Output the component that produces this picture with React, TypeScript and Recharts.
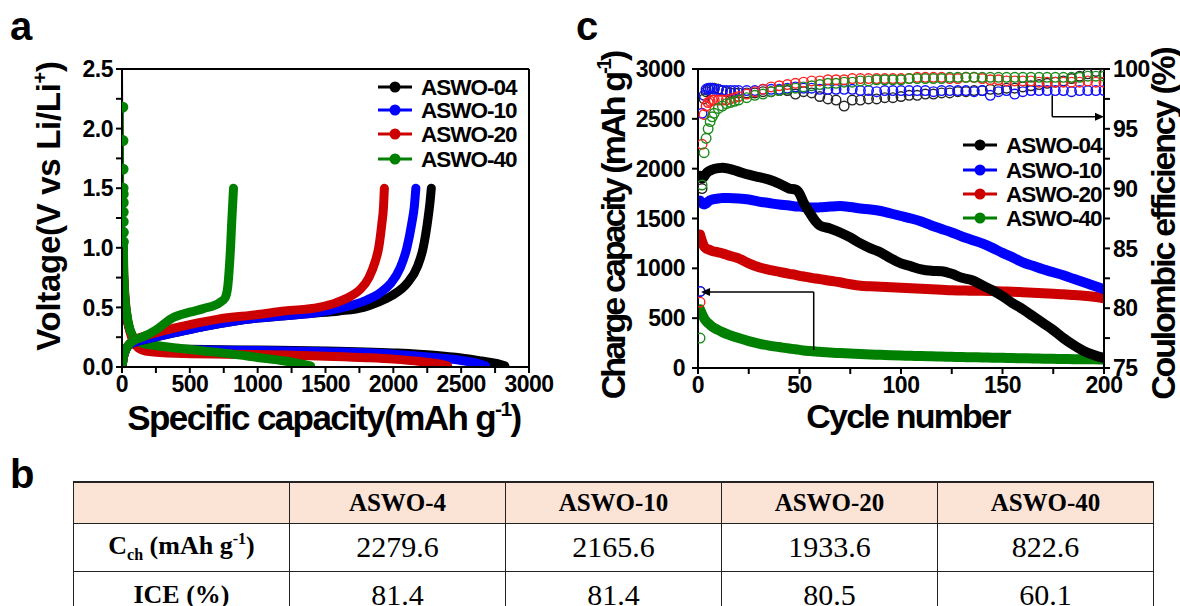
import React from 'react';
import {
  LineChart, ComposedChart, Line, XAxis, YAxis, ReferenceLine, ReferenceDot,
} from 'recharts';

// ---- panel a: voltage profiles, [capacity mAh/g, voltage V] ----
const head04: [number, number][] = [[0, 2.5], [1, 1.8], [3, 1.2], [5, 1.0]];
const head10: [number, number][] = [[0, 2.5], [1, 1.8], [3, 1.2], [5, 1.0]];
const head20: [number, number][] = [[0, 2.5], [1, 2.0], [3, 1.58], [4, 1.45], [6, 1.15], [7, 1.0]];
const head40: [number, number][] = [[6, 2.18], [7, 1.9], [8, 1.66], [8, 1.5], [9, 1.45], [9, 1.38], [9, 1.3], [9, 1.22], [10, 1.13], [10, 1.05]];

const dis04: [number, number][] = [[5, 1.0], [12, 0.75], [22, 0.55], [35, 0.42], [55, 0.32], [80, 0.25], [110, 0.205], [150, 0.175], [250, 0.155], [500, 0.148], [1000, 0.142], [1500, 0.135], [2000, 0.118], [2300, 0.098], [2500, 0.075], [2650, 0.05], [2760, 0.03], [2822, 0.01]];
const dis10: [number, number][] = [[5, 1.0], [12, 0.75], [22, 0.55], [35, 0.42], [55, 0.32], [80, 0.25], [110, 0.2], [150, 0.17], [250, 0.15], [500, 0.145], [1000, 0.138], [1500, 0.128], [2000, 0.108], [2300, 0.08], [2500, 0.055], [2620, 0.03], [2680, 0.01]];
const dis20: [number, number][] = [[7, 1.0], [14, 0.75], [25, 0.55], [40, 0.4], [60, 0.29], [85, 0.21], [120, 0.16], [200, 0.13], [400, 0.115], [800, 0.107], [1200, 0.1], [1500, 0.09], [1800, 0.078], [2000, 0.066], [2200, 0.046], [2330, 0.027], [2400, 0.01]];
const dis40: [number, number][] = [[10, 1.05], [13, 0.8], [20, 0.6], [35, 0.45], [55, 0.33], [80, 0.26], [110, 0.22], [150, 0.2], [250, 0.18], [400, 0.16], [600, 0.135], [800, 0.11], [1000, 0.08], [1200, 0.05], [1390, 0.01]];

const chg04: [number, number][] = [[0, 0], [10, 0.08], [30, 0.15], [60, 0.19], [100, 0.21], [200, 0.24], [400, 0.29], [600, 0.34], [800, 0.38], [1000, 0.41], [1200, 0.43], [1400, 0.45], [1600, 0.47], [1780, 0.5], [1880, 0.54], [1990, 0.6], [2100, 0.7], [2180, 0.85], [2220, 1.0], [2256, 1.25], [2272, 1.4], [2280, 1.5]];
const chg10: [number, number][] = [[0, 0], [10, 0.08], [30, 0.15], [60, 0.19], [100, 0.21], [200, 0.24], [400, 0.29], [600, 0.34], [800, 0.38], [1000, 0.41], [1200, 0.43], [1400, 0.45], [1550, 0.48], [1700, 0.52], [1800, 0.56], [1900, 0.62], [1980, 0.7], [2050, 0.83], [2100, 1.0], [2135, 1.2], [2155, 1.35], [2166, 1.5]];
const chg20: [number, number][] = [[0, 0], [10, 0.08], [30, 0.15], [60, 0.2], [100, 0.23], [200, 0.27], [400, 0.33], [700, 0.4], [1000, 0.44], [1200, 0.47], [1450, 0.5], [1580, 0.54], [1680, 0.59], [1755, 0.65], [1820, 0.75], [1865, 0.88], [1892, 1.0], [1915, 1.2], [1928, 1.35], [1934, 1.5]];
const chg40: [number, number][] = [[0, 0], [10, 0.08], [30, 0.15], [60, 0.2], [100, 0.23], [150, 0.25], [250, 0.31], [370, 0.41], [500, 0.46], [600, 0.49], [720, 0.54], [760, 0.58], [780, 0.68], [792, 0.85], [800, 1.0], [808, 1.2], [815, 1.35], [822, 1.5]];

const capTicksA = [0, 250, 500, 750, 1000, 1250, 1500, 1750, 2000, 2250, 2500, 2750, 3000];
const voltTicks = [0, 0.25, 0.5, 0.75, 1.0, 1.25, 1.5, 1.75, 2.0, 2.25, 2.5];

// ---- panel c: cycling ----
const capCycles = [1, 2, 3, 4, 5, 7, 10, 12, 15, 20, 25, 30, 35, 40, 45, 48, 50, 52, 55, 58, 60, 65, 70, 75, 80, 85, 90, 95, 100, 105, 110, 115, 120, 125, 130, 135, 140, 145, 150, 155, 160, 165, 170, 175, 180, 185, 190, 195, 200];
const cap04 = [1930, 1900, 1920, 1950, 1970, 1990, 2005, 2010, 2000, 1970, 1940, 1915, 1890, 1850, 1800, 1790, 1750, 1660, 1560, 1470, 1430, 1400, 1360, 1310, 1250, 1200, 1160, 1100, 1050, 1020, 990, 975, 970, 945, 905, 880, 830, 780, 720, 650, 590, 520, 450, 380, 300, 230, 170, 130, 100];
const cap10 = [1680, 1650, 1640, 1650, 1670, 1690, 1700, 1705, 1705, 1700, 1690, 1670, 1655, 1640, 1630, 1620, 1620, 1615, 1610, 1610, 1612, 1620, 1625, 1615, 1600, 1590, 1575, 1550, 1525, 1500, 1470, 1430, 1395, 1360, 1320, 1285, 1250, 1205, 1155, 1110, 1060, 1025, 990, 960, 930, 895, 860, 825, 790];
const cap20 = [1340, 1270, 1220, 1200, 1190, 1175, 1160, 1150, 1130, 1100, 1050, 1010, 985, 965, 945, 935, 925, 918, 908, 898, 892, 875, 860, 840, 825, 820, 815, 810, 805, 800, 795, 790, 785, 780, 778, 775, 775, 772, 768, 765, 760, 755, 750, 745, 740, 732, 725, 715, 700];
const cap40 = [590, 540, 500, 470, 450, 415, 380, 360, 335, 300, 270, 245, 225, 210, 195, 188, 182, 176, 170, 165, 162, 155, 150, 145, 140, 136, 132, 128, 125, 122, 120, 118, 115, 112, 110, 108, 106, 104, 102, 100, 98, 96, 94, 92, 90, 89, 88, 87, 86];

const ceCycles = [1, 2, 3, 4, 5, 6, 7, 8, 10, 12, 14, 16, 18, 20, 24, 28, 32, 36, 40, 44, 48, 52, 56, 60, 64, 68, 72, 76, 80, 84, 88, 92, 96, 100, 104, 108, 112, 116, 120, 124, 128, 132, 136, 140, 144, 148, 152, 156, 160, 164, 168, 172, 176, 180, 184, 188, 192, 196, 200];
const ce04 = [81.4, 90.0, 97.5, 98.1, 98.3, 98.4, 98.4, 98.4, 98.3, 98.2, 98.1, 98.0, 98.0, 98.0, 98.0, 98.0, 98.1, 98.1, 98.2, 98.2, 97.9, 98.1, 98.0, 97.7, 97.5, 97.4, 96.9, 97.4, 97.4, 97.5, 97.5, 97.6, 97.6, 97.7, 97.8, 97.8, 97.9, 97.9, 98.0, 98.0, 98.1, 98.1, 98.2, 98.2, 98.3, 98.3, 98.4, 98.4, 98.5, 98.6, 98.7, 98.8, 98.9, 99.0, 99.2, 99.4, 99.6, 99.8, 99.6];
const ce10 = [81.4, 96.3, 97.8, 98.3, 98.4, 98.4, 98.4, 98.3, 98.3, 98.2, 98.2, 98.2, 98.2, 98.2, 98.2, 98.2, 98.3, 98.3, 98.3, 98.4, 98.5, 98.4, 98.4, 98.3, 98.3, 98.3, 98.3, 98.3, 98.2, 98.2, 98.1, 98.2, 98.2, 98.2, 98.2, 98.2, 98.2, 98.1, 98.2, 98.2, 98.2, 98.2, 98.1, 98.2, 97.8, 98.1, 98.2, 97.9, 98.1, 98.2, 98.2, 98.2, 98.2, 98.2, 98.1, 98.2, 98.2, 98.2, 98.2];
const ce20 = [80.5, 93.7, 96.2, 96.9, 97.2, 97.3, 97.4, 97.4, 97.4, 97.4, 97.4, 97.5, 97.6, 97.7, 97.9, 98.1, 98.3, 98.5, 98.6, 98.7, 98.8, 98.9, 99.0, 99.0, 99.1, 99.1, 99.1, 99.2, 99.2, 99.2, 99.2, 99.2, 99.2, 99.2, 99.2, 99.3, 99.3, 99.3, 99.3, 99.2, 99.2, 99.3, 99.3, 99.2, 99.1, 99.1, 99.0, 99.0, 99.0, 99.0, 98.9, 98.9, 98.9, 98.9, 98.9, 98.9, 99.0, 98.9, 98.9];
const ce40 = [77.5, 90.3, 93.0, 94.2, 95.0, 95.6, 96.0, 96.3, 96.7, 96.9, 97.1, 97.2, 97.3, 97.4, 97.6, 97.8, 97.9, 98.1, 98.2, 98.3, 98.4, 98.5, 98.6, 98.7, 98.8, 98.8, 98.9, 98.9, 99.0, 99.0, 99.1, 99.1, 99.1, 99.1, 99.2, 99.2, 99.2, 99.2, 99.2, 99.3, 99.3, 99.3, 99.3, 99.3, 99.3, 99.3, 99.3, 99.3, 99.3, 99.3, 99.3, 99.3, 99.3, 99.3, 99.3, 99.3, 99.4, 99.4, 99.4];

const cycleTicks = [0, 25, 50, 75, 100, 125, 150, 175, 200];
const capTicksC = [0, 500, 1000, 1500, 2000, 2500, 3000];
const ceTicks = [75, 77.5, 80, 82.5, 85, 87.5, 90, 92.5, 95, 97.5, 100];

// arrows (chart units)
const capArrow = { cycle: 57, from: 180, to: 763, tip: 1.5 };
const ceArrow = { cycle: 174.5, from: 97.8, to: 96.0, tip: 200 };

// ---- panel b table ----
const sampleNames = ['ASWO-4', 'ASWO-10', 'ASWO-20', 'ASWO-40'];
const chargeCaps = ['2279.6', '2165.6', '1933.6', '822.6'];
const iceValues = ['81.4', '81.4', '80.5', '60.1'];

const legendNames = ['ASWO-04', 'ASWO-10', 'ASWO-20', 'ASWO-40'];
const COLORS = ['#000000', '#0000ff', '#cc0000', '#008000'];
const CE_COLORS = ['#262626', '#1010ff', '#ff2020', '#1a8c1a'];

const SANS = '"Liberation Sans", Arial, sans-serif';
const SERIF = '"Liberation Serif", "Times New Roman", serif';

const toXY = (pts: [number, number][]) => pts.map(([x, y]) => ({ x, y }));
const toCyc = (xs: number[], ys: number[]) => xs.map((c, i) => ({ cyc: c, v: ys[i] }));

const axisStroke = { stroke: '#000', strokeWidth: 2 };
const tickFont = { fill: '#000', fontSize: 23, fontWeight: 700, fontFamily: SANS, letterSpacing: -0.5 };

const fmtCapA = (v: number) => (v % 500 === 0 ? String(v) : '');
const fmtVolt = (v: number) => (Math.abs(v * 2 - Math.round(v * 2)) < 1e-6 ? v.toFixed(1) : '');
const fmtCycle = (v: number) => (v % 50 === 0 ? String(v) : '');
const fmtCE = (v: number) => (v % 5 === 0 ? String(v) : '');

const ArrowLeft = (p: any) => <path d={`M${p.cx},${p.cy} l9,-4 l0,8 z`} fill="#000" />;
const ArrowRight = (p: any) => <path d={`M${p.cx},${p.cy} l-9,-4 l0,8 z`} fill="#000" />;

const voltCurves = [
  { head: head04, dis: dis04, chg: chg04 },
  { head: head10, dis: dis10, chg: chg10 },
  { head: head20, dis: dis20, chg: chg20 },
  { head: head40, dis: dis40, chg: chg40 },
];
const capSeries = [cap04, cap10, cap20, cap40];
const ceSeries = [ce04, ce10, ce20, ce40];

const PanelA = () => (
  <LineChart width={560} height={450} margin={{ top: 69, right: 31, left: 42, bottom: 43 }}>
    <XAxis type="number" dataKey="x" domain={[0, 3000]} ticks={capTicksA} interval={0}
      tickFormatter={fmtCapA} axisLine={axisStroke} tickLine={axisStroke} tickSize={6}
      tickMargin={3} tick={tickFont} height={40} allowDataOverflow />
    <YAxis type="number" dataKey="y" domain={[0, 2.5]} ticks={voltTicks} interval={0}
      tickFormatter={fmtVolt} axisLine={axisStroke} tickLine={axisStroke} tickSize={6}
      tickMargin={3} tick={tickFont} width={80} allowDataOverflow />
    <ReferenceLine y={2.5} stroke="#000" strokeWidth={2} />
    <ReferenceLine x={3000} stroke="#000" strokeWidth={2} />
    {voltCurves.map((c, i) => (
      <Line key={'h' + i} data={toXY(c.head)} dataKey="y" stroke={COLORS[i]} strokeWidth={2}
        dot={i === 3 ? { r: 4.5, fill: COLORS[i], stroke: COLORS[i] } : false}
        isAnimationActive={false} />
    ))}
    {voltCurves.map((c, i) => (
      <Line key={'d' + i} data={toXY(c.dis)} dataKey="y" type="monotone" stroke={COLORS[i]}
        strokeWidth={9} strokeLinecap="round" strokeLinejoin="round" dot={false}
        isAnimationActive={false} />
    ))}
    {voltCurves.map((c, i) => (
      <Line key={'c' + i} data={toXY(c.chg)} dataKey="y" type="monotone" stroke={COLORS[i]}
        strokeWidth={9} strokeLinecap="round" strokeLinejoin="round" dot={false}
        isAnimationActive={false} />
    ))}
  </LineChart>
);

const PanelC = () => (
  <ComposedChart width={620} height={450} margin={{ top: 69, right: 16, left: 58, bottom: 42 }}>
    <XAxis type="number" dataKey="cyc" domain={[0, 200]} ticks={cycleTicks} interval={0}
      tickFormatter={fmtCycle} axisLine={axisStroke} tickLine={axisStroke} tickSize={6}
      tickMargin={3} tick={tickFont} height={40} allowDataOverflow />
    <YAxis yAxisId="cap" type="number" domain={[0, 3000]} ticks={capTicksC} interval={0}
      axisLine={axisStroke} tickLine={axisStroke} tickSize={6} tickMargin={7}
      tick={tickFont} width={80} allowDataOverflow />
    <YAxis yAxisId="ce" orientation="right" type="number" domain={[75, 100]} ticks={ceTicks}
      interval={0} tickFormatter={fmtCE} axisLine={axisStroke} tickLine={axisStroke}
      tickSize={6} tickMargin={3} tick={tickFont} width={60} allowDataOverflow />
    <ReferenceLine yAxisId="cap" y={3000} stroke="#000" strokeWidth={2} />
    {[0, 1, 2, 3].map((i) => (
      <Line key={'ce' + i} yAxisId="ce" data={toCyc(ceCycles, ceSeries[i])} dataKey="v"
        stroke="none" strokeWidth={0}
        dot={{ r: 4.8, fill: 'none', stroke: CE_COLORS[i], strokeWidth: 1.4 }}
        isAnimationActive={false} />
    ))}
    {[3, 2, 1, 0].map((i) => (
      <Line key={'cap' + i} yAxisId="cap" data={toCyc(capCycles, capSeries[i])} dataKey="v"
        type="monotone" stroke={COLORS[i]} strokeWidth={10} strokeLinecap="round"
        strokeLinejoin="round" dot={false} isAnimationActive={false} />
    ))}
    <ReferenceLine yAxisId="cap" segment={[{ x: capArrow.cycle, y: capArrow.from }, { x: capArrow.cycle, y: capArrow.to }]} stroke="#000" strokeWidth={1.5} />
    <ReferenceLine yAxisId="cap" segment={[{ x: capArrow.cycle, y: capArrow.to }, { x: capArrow.tip + 2, y: capArrow.to }]} stroke="#000" strokeWidth={1.5} />
    <ReferenceDot yAxisId="cap" x={capArrow.tip} y={capArrow.to} shape={ArrowLeft} />
    <ReferenceLine yAxisId="ce" segment={[{ x: ceArrow.cycle, y: ceArrow.from }, { x: ceArrow.cycle, y: ceArrow.to }]} stroke="#000" strokeWidth={1.5} />
    <ReferenceLine yAxisId="ce" segment={[{ x: ceArrow.cycle, y: ceArrow.to }, { x: ceArrow.tip - 2, y: ceArrow.to }]} stroke="#000" strokeWidth={1.5} />
    <ReferenceDot yAxisId="ce" x={ceArrow.tip} y={ceArrow.to} shape={ArrowRight} />
  </ComposedChart>
);

const Legend = ({ x, ys }: { x: number; ys: number[] }) => (
  <g>
    {legendNames.map((n, i) => (
      <g key={n}>
        <line x1={x} x2={x + 34} y1={ys[i]} y2={ys[i]} stroke={COLORS[i]} strokeWidth={3} />
        <circle cx={x + 17} cy={ys[i]} r={5.5} fill={COLORS[i]} />
        <text x={x + 43} y={ys[i] + 8} fontSize={22.5} fontWeight={700} fontFamily={SANS}
          letterSpacing={-1} fill="#000">{n}</text>
      </g>
    ))}
  </g>
);

const titleStyle = { fontFamily: SANS, fontWeight: 700, fill: '#000' } as const;

const Overlay = () => (
  <svg width={1180} height={606} style={{ position: 'absolute', left: 0, top: 0, pointerEvents: 'none' }}>
    <text x={10} y={40} fontSize={40} {...titleStyle}>a</text>
    <text x={576} y={40} fontSize={40} {...titleStyle}>c</text>
    <text x={10} y={488} fontSize={40} {...titleStyle}>b</text>

    <text x={324} y={430} fontSize={35} letterSpacing={-1.6} textAnchor="middle" {...titleStyle}>
      Specific capacity(mAh g<tspan fontSize={21} dy={-14}>-1</tspan><tspan dy={14}>)</tspan>
    </text>
    <text transform="translate(60,206) rotate(-90)" fontSize={33} letterSpacing={-0.3} textAnchor="middle" {...titleStyle}>
      Voltage(V vs Li/Li<tspan fontSize={20} dy={-13}>+</tspan><tspan dy={13}>)</tspan>
    </text>

    <text x={908} y={428} fontSize={34} letterSpacing={-1.8} textAnchor="middle" {...titleStyle}>Cycle number</text>
    <text transform="translate(625,226) rotate(-90)" fontSize={34} letterSpacing={-2.9} textAnchor="middle" {...titleStyle}>
      Charge capacity (mAh g<tspan fontSize={21} dy={-14}>-1</tspan><tspan dy={14}>)</tspan>
    </text>
    <text transform="translate(1175,224) rotate(-90)" fontSize={34} letterSpacing={-2.2} textAnchor="middle" {...titleStyle}>
      Coulombic efficiency (%)
    </text>

    <Legend x={378} ys={[87, 110, 134, 159]} />
    <Legend x={963} ys={[145, 170, 194, 218]} />
  </svg>
);

const cellBase: React.CSSProperties = {
  border: '1.5px solid #222',
  textAlign: 'center',
  fontFamily: SERIF,
  padding: 0,
  width: 215,
  color: '#000',
};

const Table = () => (
  <table style={{ position: 'absolute', left: 73, top: 481, width: 1074, borderCollapse: 'collapse', tableLayout: 'fixed' }}>
    <tbody>
      <tr style={{ height: 41, background: '#fbe4d6' }}>
        <td style={{ ...cellBase, borderTopWidth: 2 }} />
        {sampleNames.map((n) => (
          <td key={n} style={{ ...cellBase, borderTopWidth: 2, fontWeight: 700, fontSize: 25 }}>{n}</td>
        ))}
      </tr>
      <tr style={{ height: 48 }}>
        <td style={{ ...cellBase, fontWeight: 700, fontSize: 26 }}>
          C<sub style={{ fontSize: 16 }}>ch</sub> (mAh g<sup style={{ fontSize: 16 }}>-1</sup>)
        </td>
        {chargeCaps.map((v, i) => (
          <td key={i} style={{ ...cellBase, fontSize: 30 }}>{v}</td>
        ))}
      </tr>
      <tr style={{ height: 48 }}>
        <td style={{ ...cellBase, fontWeight: 700, fontSize: 26 }}>ICE (%)</td>
        {iceValues.map((v, i) => (
          <td key={i} style={{ ...cellBase, fontSize: 30 }}>{v}</td>
        ))}
      </tr>
    </tbody>
  </table>
);

export default function App() {
  return (
    <div style={{ position: 'absolute', left: 0, top: 0, width: 1180, height: 606, overflow: 'hidden', background: '#fff' }}>
      <div style={{ position: 'absolute', left: 0, top: 0 }}>
        <PanelA />
      </div>
      <div style={{ position: 'absolute', left: 560, top: 0 }}>
        <PanelC />
      </div>
      <Table />
      <Overlay />
    </div>
  );
}
